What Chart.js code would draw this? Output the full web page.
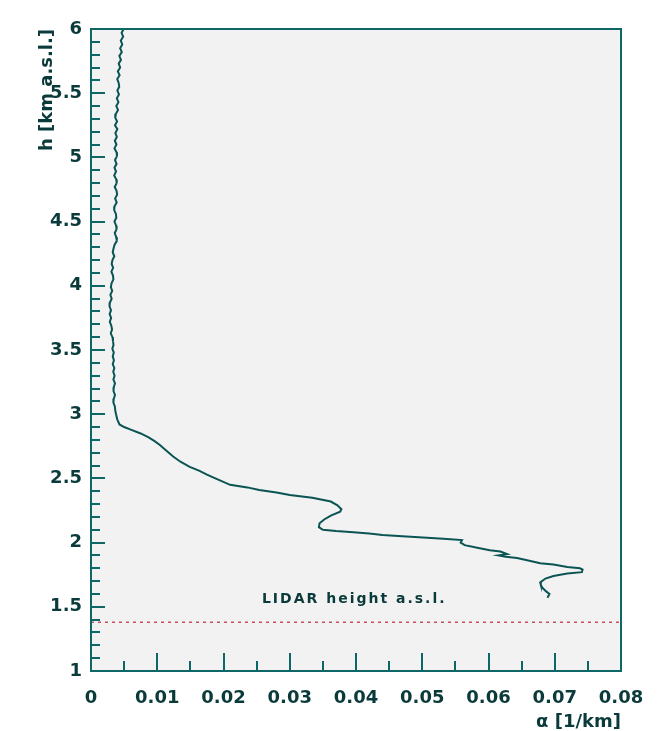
<!DOCTYPE html>
<html>
<head>
<meta charset="utf-8">
<script src="https://cdn.jsdelivr.net/npm/chart.js@4.4.0/dist/chart.umd.min.js"></script>
<style>
    html, body { margin: 0; padding: 0; background: #ffffff; }
    #wrap { width: 662px; height: 731px; }
</style>
</head>
<body>
<div id="wrap"><canvas id="chartLidar" width="662" height="731"></canvas></div>
<script>
// ===== Perfil de extincion LIDAR =====

// altura sobre el nivel del mar [km]
const alturaKm = [
    6.00, 5.97, 5.94, 5.91, 5.88, 5.85, 5.82, 5.79, 5.76, 5.73,
    5.70, 5.67, 5.64, 5.61, 5.58, 5.55, 5.52, 5.49, 5.46, 5.43,
    5.40, 5.37, 5.34, 5.31, 5.28, 5.25, 5.22, 5.19, 5.16, 5.13,
    5.10, 5.07, 5.04, 5.01, 4.98, 4.95, 4.92, 4.89, 4.86, 4.83,
    4.80, 4.77, 4.74, 4.71, 4.68, 4.65, 4.62, 4.59, 4.56, 4.53,
    4.50, 4.47, 4.44, 4.41, 4.38, 4.35, 4.32, 4.29, 4.26, 4.23,
    4.20, 4.17, 4.14, 4.11, 4.08, 4.05, 4.02, 3.99, 3.96, 3.93,
    3.90, 3.87, 3.84, 3.81, 3.78, 3.75, 3.72, 3.69, 3.66, 3.63,
    3.60, 3.57, 3.54, 3.51, 3.48, 3.45, 3.42, 3.39, 3.36, 3.33,
    3.30, 3.27, 3.24, 3.21, 3.18, 3.15, 3.12, 3.09, 3.06, 3.03,
    3.00, 2.96, 2.92, 2.90, 2.88, 2.85, 2.82, 2.79, 2.76, 2.72,
    2.67, 2.63, 2.59, 2.56, 2.53, 2.49, 2.45, 2.43, 2.41, 2.39,
    2.37, 2.35, 2.32, 2.29, 2.26, 2.24, 2.21, 2.18, 2.15, 2.12,
    2.10, 2.09, 2.08, 2.07, 2.06, 2.05, 2.04, 2.03, 2.02, 2.00,
    1.98, 1.96, 1.94, 1.93, 1.91, 1.90, 1.89, 1.88, 1.86, 1.84,
    1.83, 1.81, 1.80, 1.79, 1.77, 1.76, 1.74, 1.72, 1.69, 1.67,
    1.65, 1.62, 1.60, 1.57
];

// coeficiente de extincion alfa [1/km]
const alfa = [
    0.00492, 0.00462, 0.00485, 0.00450, 0.00472, 0.00440, 0.00465, 0.00428, 0.00452, 0.00418,
    0.00440, 0.00405, 0.00432, 0.00396, 0.00418, 0.00426, 0.00398, 0.00422, 0.00390, 0.00414,
    0.00382, 0.00408, 0.00376, 0.00366, 0.00394, 0.00362, 0.00398, 0.00368, 0.00390, 0.00360,
    0.00384, 0.00354, 0.00386, 0.00392, 0.00362, 0.00386, 0.00354, 0.00378, 0.00350, 0.00380,
    0.00388, 0.00358, 0.00386, 0.00394, 0.00364, 0.00388, 0.00356, 0.00350, 0.00376, 0.00382,
    0.00354, 0.00378, 0.00386, 0.00358, 0.00380, 0.00390, 0.00356, 0.00340, 0.00328, 0.00352,
    0.00324, 0.00312, 0.00334, 0.00308, 0.00332, 0.00338, 0.00310, 0.00300, 0.00320, 0.00292,
    0.00312, 0.00286, 0.00280, 0.00302, 0.00282, 0.00304, 0.00284, 0.00306, 0.00318, 0.00298,
    0.00324, 0.00332, 0.00340, 0.00322, 0.00344, 0.00328, 0.00346, 0.00328, 0.00352, 0.00336,
    0.00356, 0.00338, 0.00362, 0.00344, 0.00340, 0.00362, 0.00344, 0.00338, 0.00360, 0.00366,
    0.00378, 0.00396, 0.00430, 0.00500, 0.00600, 0.00750, 0.00870, 0.00960, 0.01040, 0.01130,
    0.01240, 0.01350, 0.01490, 0.01630, 0.01750, 0.01920, 0.02100, 0.02360, 0.02540, 0.02800,
    0.03000, 0.03340, 0.03620, 0.03720, 0.03780, 0.03760, 0.03620, 0.03520, 0.03450, 0.03440,
    0.03500, 0.03700, 0.03960, 0.04200, 0.04400, 0.04700, 0.05010, 0.05320, 0.05600, 0.05580,
    0.05640, 0.05830, 0.06020, 0.06180, 0.06280, 0.06150, 0.06260, 0.06430, 0.06600, 0.06780,
    0.06980, 0.07190, 0.07380, 0.07420, 0.07410, 0.07190, 0.06980, 0.06860, 0.06780, 0.06790,
    0.06810, 0.06870, 0.06920, 0.06890
];

// altura del LIDAR s.n.m. [km]
const alturaLidar = [1.38, 1.38];
const alfaLidar = [0, 0.08];

const rangoX = [0, 0.08];
const rangoY = [1, 6];

const colorMarco = '#0e6767';
const colorTexto = '#0b3a3a';
const colorCurva = '#0b5454';
const familia = '"DejaVu Sans", "Liberation Sans", Arial, sans-serif';

// Plugin: fondo gris, marco, ticks hacia adentro y etiqueta LIDAR
const marcoRoot = {
    id: 'marcoRoot',
    beforeDatasetsDraw(chart) {
        const { ctx, chartArea: a } = chart;
        ctx.save();
        ctx.fillStyle = '#f2f2f2';
        ctx.fillRect(a.left, a.top, a.right - a.left, a.bottom - a.top);
        ctx.restore();
    },
    afterDatasetsDraw(chart) {
        const { ctx, chartArea: a, scales } = chart;
        const sx = scales.x, sy = scales.y;
        ctx.save();
        ctx.strokeStyle = colorMarco;
        ctx.lineWidth = 2;

        // ticks eje y (menores cada 0.1, mayores cada 0.5)
        for (let i = 0; i <= 50; i++) {
            const v = rangoY[0] + i * 0.1;
            const py = Math.round(sy.getPixelForValue(v));
            const largo = (i % 5 === 0) ? 14 : 9;
            ctx.beginPath();
            ctx.moveTo(a.left, py);
            ctx.lineTo(a.left + largo, py);
            ctx.stroke();
        }
        // ticks eje x (menores cada 0.005, mayores cada 0.01)
        for (let i = 0; i <= 16; i++) {
            const v = rangoX[0] + i * 0.005;
            const px = Math.round(sx.getPixelForValue(v));
            const largo = (i % 2 === 0) ? 18 : 10;
            ctx.beginPath();
            ctx.moveTo(px, a.bottom);
            ctx.lineTo(px, a.bottom - largo);
            ctx.stroke();
        }
        // marco
        ctx.strokeRect(a.left, a.top, a.right - a.left, a.bottom - a.top);

        // etiqueta
        ctx.fillStyle = colorTexto;
        ctx.font = 'bold 14px ' + familia;
        ctx.letterSpacing = '2px';
        ctx.textAlign = 'left';
        ctx.textBaseline = 'middle';
        ctx.fillText('LIDAR height a.s.l.', sx.getPixelForValue(0.0258), sy.getPixelForValue(1.56));
        ctx.restore();
    }
};

function inicializarGrafico() {
    const ctx = document.getElementById('chartLidar');
    const fuenteTicks = { family: familia, size: 18, weight: 'bold' };

    new Chart(ctx, {
        type: 'scatter',
        data: {
            datasets: [
                {
                    data: alturaKm.map((h, i) => ({ x: alfa[i], y: h })),
                    showLine: true,
                    borderColor: colorCurva,
                    borderWidth: 2,
                    pointRadius: 0,
                    tension: 0
                },
                {
                    data: alturaLidar.map((h, i) => ({ x: alfaLidar[i], y: h })),
                    showLine: true,
                    borderColor: '#c8505c',
                    borderWidth: 1.5,
                    borderDash: [3, 4],
                    pointRadius: 0
                }
            ]
        },
        options: {
            responsive: false,
            animation: false,
            devicePixelRatio: 1,
            layout: { padding: { top: 29, right: 41, left: 0, bottom: 0 } },
            plugins: {
                legend: { display: false },
                tooltip: { enabled: false }
            },
            scales: {
                x: {
                    type: 'linear',
                    min: rangoX[0],
                    max: rangoX[1],
                    grid: { display: false, drawTicks: false },
                    border: { display: false },
                    ticks: {
                        stepSize: 0.01,
                        autoSkip: false,
                        maxRotation: 0,
                        padding: 17,
                        color: colorTexto,
                        font: fuenteTicks,
                        callback: v => v === 0 ? '0' : v.toFixed(2)
                    },
                    title: {
                        display: true,
                        text: 'α [1/km]',
                        align: 'end',
                        color: colorTexto,
                        font: { family: familia, size: 18, weight: 'bold', lineHeight: 1 },
                        padding: { top: 0, bottom: 0 }
                    },
                    afterFit: s => { s.height = 60; }
                },
                y: {
                    type: 'linear',
                    min: rangoY[0],
                    max: rangoY[1],
                    grid: { display: false, drawTicks: false },
                    border: { display: false },
                    ticks: {
                        stepSize: 0.5,
                        padding: 9,
                        color: colorTexto,
                        font: fuenteTicks,
                        callback: v => String(v)
                    },
                    title: {
                        display: true,
                        text: 'h [km a.s.l.]',
                        align: 'end',
                        color: colorTexto,
                        font: { family: familia, size: 18, weight: 'bold', lineHeight: 1.2 },
                        padding: { top: 37, bottom: 0 }
                    },
                    afterFit: s => { s.width = 91; }
                }
            }
        },
        plugins: [marcoRoot]
    });
}

document.addEventListener('DOMContentLoaded', inicializarGrafico);
</script>
</body>
</html>
